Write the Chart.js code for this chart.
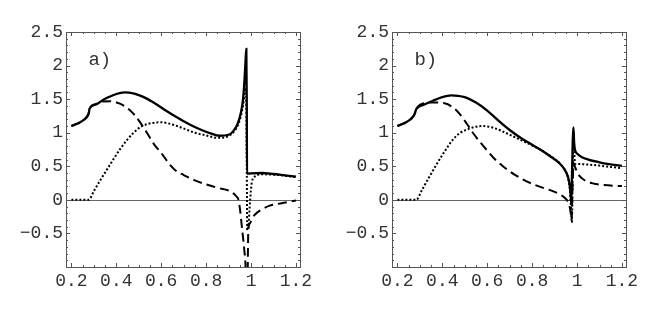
<!DOCTYPE html>
<html>
<head>
<meta charset="utf-8">
<script src="https://cdn.jsdelivr.net/npm/chart.js@4/dist/chart.umd.min.js"></script>
<style>
html, body { margin: 0; padding: 0; background: #fff; }
#wrap { position: relative; width: 655px; height: 312px; }
canvas { position: absolute; top: 0; }
</style>
</head>
<body>
<div id="wrap">
  <canvas id="chartA" width="327" height="312" style="left:0;width:327px;height:312px"></canvas>
  <canvas id="chartB" width="327" height="312" style="left:326px;width:327px;height:312px"></canvas>
</div>
<script>
// tick labels
const xTicks = [0.2, 0.4, 0.6, 0.8, 1, 1.2];
const yTicks = [-0.5, 0, 0.5, 1, 1.5, 2, 2.5];

// panel a)
const aSolidX = [0.2, 0.23, 0.255, 0.272, 0.278, 0.281, 0.31, 0.344, 0.38, 0.41, 0.44, 0.47, 0.5, 0.54, 0.58, 0.62, 0.66, 0.7, 0.74, 0.78, 0.82, 0.86, 0.9, 0.92, 0.94, 0.955, 0.965, 0.972, 0.976, 0.979, 0.981, 0.982, 1.0, 1.05, 1.1, 1.15, 1.2];
const aSolidY = [1.10, 1.14, 1.19, 1.25, 1.30, 1.36, 1.42, 1.495, 1.55, 1.585, 1.60, 1.59, 1.56, 1.50, 1.42, 1.33, 1.25, 1.17, 1.10, 1.04, 0.99, 0.955, 0.97, 1.02, 1.13, 1.30, 1.52, 1.85, 2.10, 2.25, 1.40, 0.39, 0.395, 0.40, 0.385, 0.365, 0.345];
const aDashX = [0.2, 0.23, 0.255, 0.272, 0.278, 0.281, 0.31, 0.34, 0.373, 0.41, 0.448, 0.477, 0.507, 0.54, 0.57, 0.6, 0.63, 0.66, 0.7, 0.75, 0.8, 0.85, 0.9, 0.92, 0.935, 0.944, 0.952, 0.959, 0.965, 0.97, 0.976, 0.979, 0.984, 0.986, 0.988, 0.995, 1.01, 1.02, 1.05, 1.08, 1.12, 1.16, 1.2];
const aDashY = [1.10, 1.14, 1.19, 1.25, 1.30, 1.36, 1.43, 1.465, 1.47, 1.44, 1.37, 1.28, 1.15, 0.98, 0.82, 0.70, 0.56, 0.45, 0.37, 0.29, 0.23, 0.18, 0.14, 0.10, 0.05, 0.0, -0.17, -0.4, -0.58, -0.75, -1.05, -1.6, -1.6, -0.8, -0.45, -0.35, -0.25, -0.21, -0.14, -0.09, -0.06, -0.035, -0.01];
const aDotX = [0.2, 0.277, 0.3, 0.33, 0.36, 0.39, 0.42, 0.45, 0.48, 0.51, 0.54, 0.57, 0.6, 0.63, 0.67, 0.71, 0.75, 0.8, 0.85, 0.88, 0.9, 0.92, 0.94, 0.955, 0.965, 0.972, 0.978, 0.981, 0.983, 0.988, 0.996, 1.003, 1.015, 1.025, 1.05, 1.1, 1.15, 1.2];
const aDotY = [0, 0, 0.13, 0.30, 0.46, 0.62, 0.77, 0.90, 1.01, 1.09, 1.13, 1.15, 1.155, 1.14, 1.10, 1.05, 1.00, 0.96, 0.925, 0.93, 0.95, 1.0, 1.1, 1.25, 1.42, 1.6, 1.67, 0.5, -0.45, -0.4, 0.0, 0.25, 0.34, 0.37, 0.38, 0.375, 0.36, 0.34];

// panel b)
const bSolidX = [0.2, 0.23, 0.255, 0.272, 0.278, 0.284, 0.32, 0.36, 0.4, 0.44, 0.47, 0.5, 0.55, 0.6, 0.65, 0.7, 0.75, 0.8, 0.85, 0.88, 0.92, 0.945, 0.96, 0.968, 0.972, 0.974, 0.977, 0.981, 0.984, 0.987, 0.99, 0.995, 1.0, 1.02, 1.05, 1.1, 1.15, 1.2];
const bSolidY = [1.10, 1.14, 1.19, 1.25, 1.29, 1.35, 1.42, 1.48, 1.53, 1.555, 1.55, 1.53, 1.45, 1.33, 1.18, 1.04, 0.92, 0.82, 0.72, 0.65, 0.55, 0.45, 0.34, 0.2, 0.05, -0.05, 0.3, 0.9, 1.08, 0.85, 0.76, 0.71, 0.69, 0.64, 0.60, 0.56, 0.53, 0.505];
const bDashX = [0.2, 0.23, 0.255, 0.272, 0.278, 0.284, 0.32, 0.36, 0.41, 0.45, 0.477, 0.51, 0.536, 0.566, 0.596, 0.63, 0.67, 0.72, 0.773, 0.83, 0.892, 0.93, 0.954, 0.965, 0.972, 0.975, 0.98, 0.985, 0.99, 1.0, 1.01, 1.03, 1.07, 1.12, 1.2];
const bDashY = [1.10, 1.14, 1.19, 1.25, 1.29, 1.35, 1.44, 1.45, 1.44, 1.37, 1.28, 1.13, 1.0, 0.87, 0.75, 0.62, 0.50, 0.38, 0.28, 0.20, 0.13, 0.07, 0.0, -0.07, -0.2, -0.3, 0.2, 0.55, 0.50, 0.42, 0.36, 0.30, 0.245, 0.22, 0.205];
const bDotX = [0.2, 0.284, 0.31, 0.34, 0.373, 0.41, 0.448, 0.48, 0.521, 0.55, 0.581, 0.62, 0.655, 0.7, 0.744, 0.8, 0.85, 0.9, 0.93, 0.95, 0.96, 0.968, 0.973, 0.977, 0.98, 0.983, 0.985, 0.988, 0.991, 1.0, 1.05, 1.1, 1.15, 1.2];
const bDotY = [0, 0, 0.15, 0.33, 0.52, 0.72, 0.90, 1.0, 1.06, 1.09, 1.10, 1.08, 1.04, 0.97, 0.90, 0.81, 0.72, 0.61, 0.52, 0.42, 0.32, 0.15, -0.1, -0.34, 0.2, 0.9, 1.0, 0.7, 0.54, 0.535, 0.525, 0.51, 0.49, 0.47];

function pts(xs, ys) {
  return xs.map((x, i) => ({ x: x, y: ys[i] }));
}

const frameColor = '#555';
const textColor = '#333';
const monoFont = "'Liberation Mono', 'DejaVu Sans Mono', monospace";

const framePlugin = {
  id: 'frame',
  beforeDatasetsDraw(chart) {
    const ctx = chart.ctx, a = chart.chartArea;
    const y0 = Math.round(chart.scales.y.getPixelForValue(0)) + 0.5;
    ctx.save();
    ctx.strokeStyle = '#666';
    ctx.lineWidth = 1;
    ctx.beginPath();
    ctx.moveTo(a.left, y0);
    ctx.lineTo(a.right, y0);
    ctx.stroke();
    ctx.restore();
  },
  afterDraw(chart, args, opts) {
    const ctx = chart.ctx, a = chart.chartArea;
    const xs = chart.scales.x, ys = chart.scales.y;
    ctx.save();
    ctx.strokeStyle = frameColor;
    ctx.lineWidth = 1;
    ctx.strokeRect(Math.round(a.left) + 0.5, Math.round(a.top) + 0.5,
      Math.round(a.right - a.left), Math.round(a.bottom - a.top));
    ctx.beginPath();
    // x ticks, inward on bottom and top
    for (let k = 0; k <= 20; k++) {
      const v = 0.2 + k * 0.05;
      const px = Math.round(xs.getPixelForValue(v)) + 0.5;
      const len = k % 4 === 0 ? 4 : 2;
      ctx.moveTo(px, a.bottom); ctx.lineTo(px, a.bottom - len);
      ctx.moveTo(px, a.top); ctx.lineTo(px, a.top + len);
    }
    // y ticks, inward on left and right
    for (let k = 0; k <= 35; k++) {
      const v = -1 + k * 0.1;
      const py = Math.round(ys.getPixelForValue(v)) + 0.5;
      const len = k % 5 === 0 ? 4 : 2;
      ctx.moveTo(a.left, py); ctx.lineTo(a.left + len, py);
      ctx.moveTo(a.right, py); ctx.lineTo(a.right - len, py);
    }
    ctx.stroke();
    // panel label
    ctx.fillStyle = textColor;
    ctx.font = '19px ' + monoFont;
    ctx.textBaseline = 'middle';
    ctx.textAlign = 'left';
    ctx.fillText(opts.label, xs.getPixelForValue(0.276), ys.getPixelForValue(2.09));
    ctx.restore();
  }
};

function makeChart(id, label, solid, dash, dot) {
  return new Chart(document.getElementById(id), {
    type: 'line',
    data: {
      datasets: [
        { data: solid, borderColor: '#000', borderWidth: 2.3 },
        { data: dash, borderColor: '#000', borderWidth: 2, borderDash: [9, 5] },
        { data: dot, borderColor: '#000', borderWidth: 2, borderDash: [2, 2] }
      ]
    },
    options: {
      responsive: false,
      animation: false,
      elements: { point: { radius: 0 }, line: { cubicInterpolationMode: 'monotone', fill: false } },
      layout: { padding: { top: 32, right: 27, bottom: 0, left: 0 } },
      plugins: { legend: { display: false }, tooltip: { enabled: false }, frame: { label: label } },
      scales: {
        x: {
          type: 'linear', min: 0.176, max: 1.218,
          grid: { display: false, drawTicks: false },
          border: { display: false },
          afterBuildTicks: s => { s.ticks = xTicks.map(v => ({ value: v })); },
          afterFit: s => { s.height = 45; },
          ticks: { color: textColor, font: { family: monoFont, size: 18 }, padding: 3, maxRotation: 0,
            callback: v => String(v) }
        },
        y: {
          type: 'linear', min: -1, max: 2.5,
          grid: { display: false, drawTicks: false },
          border: { display: false },
          afterBuildTicks: s => { s.ticks = yTicks.map(v => ({ value: v })); },
          afterFit: s => { s.width = 66; },
          ticks: { color: textColor, font: { family: monoFont, size: 18 }, padding: 3,
            callback: v => (v < 0 ? '\u2212' + String(-v) : String(v)) }
        }
      }
    },
    plugins: [framePlugin]
  });
}

makeChart('chartA', 'a)', pts(aSolidX, aSolidY), pts(aDashX, aDashY), pts(aDotX, aDotY));
makeChart('chartB', 'b)', pts(bSolidX, bSolidY), pts(bDashX, bDashY), pts(bDotX, bDotY));
</script>
</body>
</html>
